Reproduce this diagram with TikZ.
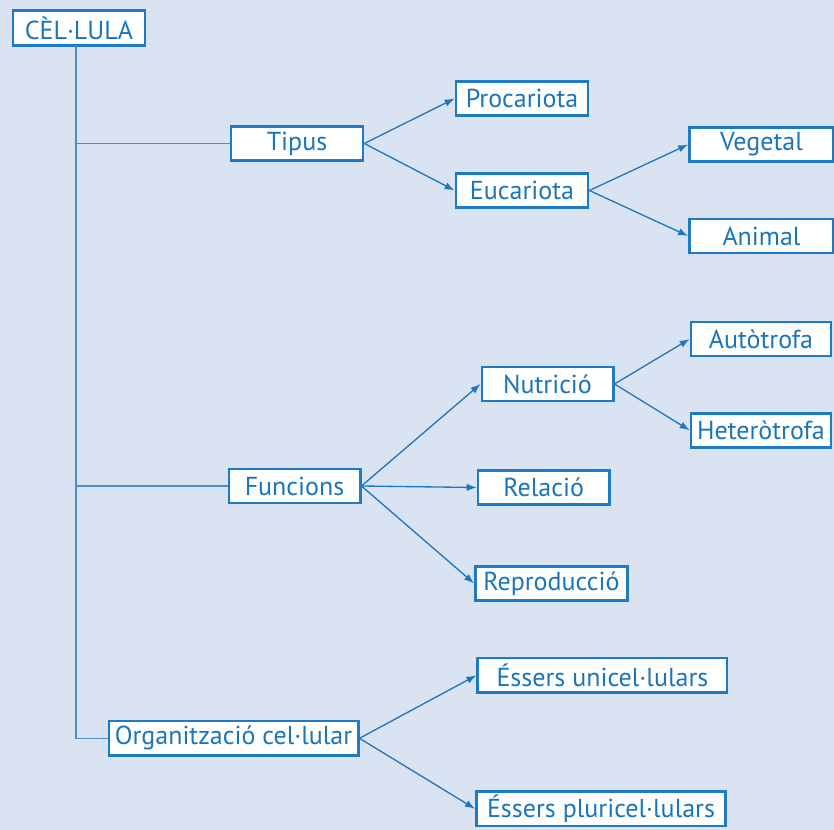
\documentclass[tikz,border=0pt]{standalone}
\usepackage{fontspec}
\setmainfont{PT Sans}
\usetikzlibrary{arrows.meta}
\definecolor{bgc}{HTML}{DAE3F1}
\definecolor{boxc}{HTML}{1E7AC3}
\definecolor{txtc}{HTML}{1B75BC}
\definecolor{treec}{HTML}{4A90D0}
\definecolor{arrc}{HTML}{1E78C0}
\tikzset{
  box/.style={draw=boxc, line width=2pt, fill=white, text=txtc, inner sep=0pt,
    font=\fontsize{19.5}{21}\selectfont, minimum height=25.5pt},
  tree/.style={draw=treec, line width=1.2pt},
  arr/.style={draw=arrc, line width=1pt, -{Latex[length=7.5pt,width=5.5pt]}},
}
\begin{document}
\begin{tikzpicture}[x=0.75pt,y=-0.75pt]
\fill[bgc] (0,0) rectangle (834,830);
\useasboundingbox (0,0) rectangle (834,830);
% nodes
\node[box, minimum width=99pt, minimum height=26pt] (cel) at (79,28) {CÈL·LULA};
\node[box, minimum width=99pt] (tipus) at (297,143.5) {Tipus};
\node[box, minimum width=99pt] (proc) at (522,98.5) {Procariota};
\node[box, minimum width=99pt] (euc) at (522,190.5) {Eucariota};
\node[box, minimum width=108pt] (veg) at (761.5,144.5) {Vegetal};
\node[box, minimum width=108pt] (anim) at (761.5,236) {Animal};
\node[box, minimum width=98.5pt] (func) at (294.5,486) {Funcions};
\node[box, minimum width=98.5pt] (nutr) at (547.5,384) {Nutrició};
\node[box, minimum width=98.5pt] (rel) at (543.7,487.5) {Relació};
\node[box, minimum width=114pt] (repr) at (551.4,583.4) {Reproducció};
\node[box, minimum width=105pt] (auto) at (761,339) {Autòtrofa};
\node[box, minimum width=105pt] (hetero) at (761,430.3) {Heteròtrofa};
\node[box, minimum width=187pt, minimum height=26pt] (org) at (233.5,738.3) {Organització cel·lular};
\node[box, minimum width=187pt, minimum height=26pt] (uni) at (602.4,675.3) {Éssers unicel·lulars};
\node[box, minimum width=187pt, minimum height=26pt] (plur) at (601,808.8) {Éssers pluricel·lulars};
% tree
\coordinate (trunk) at (76,46);
\draw[tree] (trunk) |- (org.west);
\draw[tree] (tipus.west) -- (tipus.west -| trunk);
\draw[tree] (func.west) -- (func.west -| trunk);
% arrows
\draw[arr] (tipus.east) -- (proc.west);
\draw[arr] (tipus.east) -- (euc.west);
\draw[arr] (euc.east) -- (veg.west);
\draw[arr] (euc.east) -- (anim.west);
\draw[arr] (func.east) -- (nutr.west);
\draw[arr] (func.east) -- (rel.west);
\draw[arr] (func.east) -- (repr.west);
\draw[arr] (nutr.east) -- (auto.west);
\draw[arr] (nutr.east) -- (hetero.west);
\draw[arr] (org.east) -- (uni.west);
\draw[arr] (org.east) -- (plur.west);
\end{tikzpicture}
\end{document}
